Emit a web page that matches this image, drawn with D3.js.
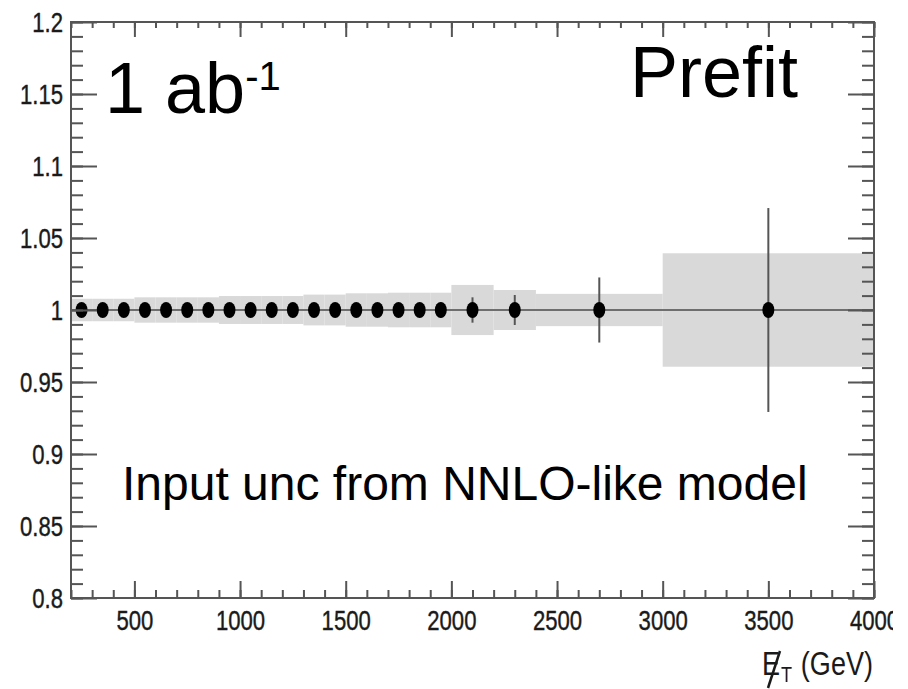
<!DOCTYPE html>
<html>
<head>
<meta charset="utf-8">
<script src="https://cdn.jsdelivr.net/npm/d3@7"></script>
<style>
  html, body { margin: 0; padding: 0; background: #fff; }
  svg { display: block; font-family: "Liberation Sans", Arial, sans-serif; }
</style>
</head>
<body>
<svg id="chart" width="908" height="689"></svg>
<script>
// bins in GeV (edges), one point per bin
const binEdges = [200, 300, 400, 500, 600, 700, 800, 900, 1000, 1100, 1200, 1300, 1400,
    1500, 1600, 1700, 1800, 1900, 2000, 2200, 2400, 3000, 4000];
const ratio = [1, 1, 1, 1, 1, 1, 1, 1, 1, 1, 1, 1, 1, 1, 1, 1, 1, 1, 1, 1, 1, 1];
// half width of the grey band (input uncertainty)
const bandUnc = [0.0078, 0.0078, 0.0078, 0.0088, 0.0088, 0.0088, 0.0088, 0.0097, 0.0097,
    0.0097, 0.0097, 0.0107, 0.0107, 0.0116, 0.0116, 0.012, 0.012, 0.012,
    0.0174, 0.0139, 0.0112, 0.0394];
// stat error bars on the points
const statErr = [0.002, 0.002, 0.002, 0.0022, 0.0024, 0.0025, 0.0027, 0.0029, 0.003,
    0.0032, 0.0034, 0.0036, 0.0038, 0.004, 0.0043, 0.0046, 0.005, 0.0054,
    0.0088, 0.0104, 0.0226, 0.0708];
const xTicksMajor = [500, 1000, 1500, 2000, 2500, 3000, 3500, 4000];
const yTicksMajor = [0.8, 0.85, 0.9, 0.95, 1, 1.05, 1.1, 1.15, 1.2];

const frame = { left: 71, right: 874, top: 22, bottom: 598 };
const axisColor = '#555';

const svg = d3.select('#chart');
const x = d3.scaleLinear().domain([200, 4000]).range([frame.left, frame.right]);
const y = d3.scaleLinear().domain([0.8, 1.2]).range([frame.bottom, frame.top]);

const bins = ratio.map((r, i) => ({
    x0: binEdges[i],
    x1: binEdges[i + 1],
    xc: (binEdges[i] + binEdges[i + 1]) / 2,
    r,
    band: bandUnc[i],
    err: statErr[i],
}));

// grey band
svg.append('g').selectAll('rect')
    .data(bins)
    .join('rect')
    .attr('x', d => x(d.x0))
    .attr('width', d => x(d.x1) - x(d.x0))
    .attr('y', d => y(d.r + d.band))
    .attr('height', d => y(d.r - d.band) - y(d.r + d.band))
    .attr('fill', '#d9d9d9');

// reference line at 1
svg.append('line')
    .attr('x1', x(200)).attr('x2', x(4000))
    .attr('y1', y(1)).attr('y2', y(1))
    .attr('stroke', '#6e6e6e')
    .attr('stroke-width', 2);

// error bars
svg.append('g').selectAll('line')
    .data(bins)
    .join('line')
    .attr('x1', d => x(d.xc)).attr('x2', d => x(d.xc))
    .attr('y1', d => y(d.r + d.err)).attr('y2', d => y(d.r - d.err))
    .attr('stroke', axisColor)
    .attr('stroke-width', 2);

// markers
svg.append('g').selectAll('ellipse')
    .data(bins)
    .join('ellipse')
    .attr('cx', d => x(d.xc))
    .attr('cy', d => y(d.r))
    .attr('rx', 6)
    .attr('ry', 8)
    .attr('fill', '#000');

// axes -----------------------------------------------------------
const yMinorVals = d3.range(80, 121).map(v => v / 100);
const xMinorVals = d3.range(200, 4001, 100);

function styleAxis(g) {
    g.select('.domain').remove();
    g.selectAll('line').attr('stroke', axisColor).attr('stroke-width', 2);
}

function addAxis(gen, transform) {
    return svg.append('g').attr('transform', transform).call(gen).call(styleAxis);
}

// condensed-looking tick labels
const labelStyle = (sel) => sel
    .attr('fill', '#1a1a1a')
    .attr('stroke', '#1a1a1a')
    .attr('stroke-width', 0.4)
    .attr('font-family', '"Liberation Sans", Arial, sans-serif')
    .attr('font-size', 27);

// left
addAxis(d3.axisLeft(y).tickValues(yMinorVals).tickSizeInner(-12).tickSizeOuter(0).tickFormat(''),
    `translate(${frame.left},0)`);
const yLab = addAxis(d3.axisLeft(y).tickValues(yTicksMajor).tickSizeInner(-26).tickSizeOuter(0)
    .tickFormat(d3.format('')), `translate(${frame.left},0)`);
yLab.selectAll('text')
    .call(labelStyle)
    .attr('x', null).attr('dy', '0.36em')
    .attr('text-anchor', 'end')
    .attr('transform', 'translate(-8,0) scale(0.82,1)');

// right
addAxis(d3.axisRight(y).tickValues(yMinorVals).tickSizeInner(-12).tickSizeOuter(0).tickFormat(''),
    `translate(${frame.right},0)`);
addAxis(d3.axisRight(y).tickValues(yTicksMajor).tickSizeInner(-26).tickSizeOuter(0).tickFormat(''),
    `translate(${frame.right},0)`);

// top
addAxis(d3.axisTop(x).tickValues(xMinorVals).tickSizeInner(-6).tickSizeOuter(0).tickFormat(''),
    `translate(0,${frame.top})`);
addAxis(d3.axisTop(x).tickValues(xTicksMajor).tickSizeInner(-15).tickSizeOuter(0).tickFormat(''),
    `translate(0,${frame.top})`);

// bottom
svg.append('clipPath').attr('id', 'pageclip')
    .append('rect').attr('x', -10).attr('y', -20).attr('width', 893 + 10).attr('height', 120);
addAxis(d3.axisBottom(x).tickValues(xMinorVals).tickSizeInner(-8).tickSizeOuter(0).tickFormat(''),
    `translate(0,${frame.bottom})`);
const xLab = addAxis(d3.axisBottom(x).tickValues(xTicksMajor).tickSizeInner(-17).tickSizeOuter(0)
    .tickFormat(d3.format('d')), `translate(0,${frame.bottom})`);
xLab.attr('clip-path', 'url(#pageclip)');
xLab.selectAll('text')
    .call(labelStyle)
    .attr('y', null).attr('dy', null)
    .attr('text-anchor', 'middle')
    .attr('transform', 'translate(0,32) scale(0.82,1)');

// frame
svg.append('rect')
    .attr('x', frame.left).attr('y', frame.top)
    .attr('width', frame.right - frame.left).attr('height', frame.bottom - frame.top)
    .attr('fill', 'none')
    .attr('stroke', axisColor)
    .attr('stroke-width', 2);

// x axis title: missing E_T (GeV)
const title = svg.append('g').attr('fill', '#1a1a1a');
title.append('text')
    .attr('transform', 'translate(762,675) scale(0.82,1)')
    .attr('font-size', 33)
    .text('E');
title.append('text')
    .attr('transform', 'translate(781,682) scale(0.82,1)')
    .attr('font-size', 22)
    .text('T');
title.append('line')
    .attr('x1', 768).attr('y1', 688)
    .attr('x2', 780).attr('y2', 651)
    .attr('stroke', '#1a1a1a')
    .attr('stroke-width', 2.5);
title.append('text')
    .attr('transform', 'translate(873,675) scale(0.82,1)')
    .attr('text-anchor', 'end')
    .attr('font-size', 33)
    .text('(GeV)');

// annotations
const lumi = svg.append('text')
    .attr('x', 105).attr('y', 113)
    .attr('font-size', 72)
    .attr('fill', '#000');
lumi.append('tspan').text('1 ab');
lumi.append('tspan').attr('font-size', 40).attr('dy', -23).text('-1');

svg.append('text')
    .attr('x', 630).attr('y', 97)
    .attr('font-size', 72)
    .attr('fill', '#000')
    .text('Prefit');

svg.append('text')
    .attr('x', 122).attr('y', 500)
    .attr('font-size', 48)
    .attr('fill', '#000')
    .text('Input unc from NNLO-like model');
</script>
</body>
</html>
